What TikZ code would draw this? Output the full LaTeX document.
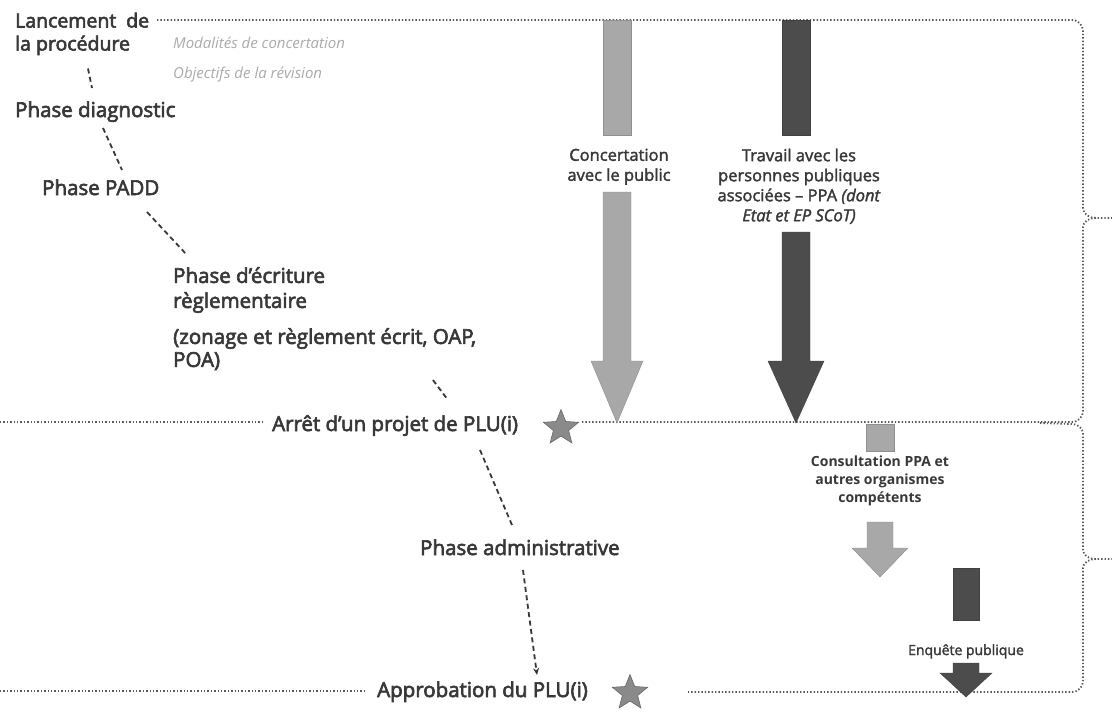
\documentclass[tikz,border=0pt]{standalone}
\usepackage{fontspec}
\setmainfont{Open Sans}
\newfontfamily\semib{Open Sans}[FakeBold=3]
\newfontfamily\semibs{Open Sans}[FakeBold=2]
\usetikzlibrary{shapes.geometric,arrows.meta,calc}
\definecolor{txt}{HTML}{383838}
\definecolor{lightarr}{HTML}{A8A8A8}
\definecolor{darkarr}{HTML}{4C4C4C}
\definecolor{dotc}{HTML}{5A5A5A}
\definecolor{ghost}{HTML}{ABABAB}
\definecolor{starc}{HTML}{8A8A8A}
\begin{document}
\begin{tikzpicture}[x=1pt,y=-1pt,
  lbl/.style={font=\semib\fontsize{20.5}{23}\selectfont, text=txt, inner sep=0pt, align=left},
  note/.style={font=\itshape\fontsize{15}{18}\selectfont, text=ghost, inner sep=0pt},
  arrlbl/.style={font=\semibs\fontsize{16.5}{20}\selectfont, text=txt, inner sep=0pt, align=center},
  smalllbl/.style={font=\bfseries\fontsize{14}{18}\selectfont, text=txt, inner sep=0pt, align=center},
  dotl/.style={draw=dotc, line width=1.8pt, dash pattern=on 1.4pt off 2pt},
  dashc/.style={draw=txt, line width=1.8pt, dash pattern=on 5pt off 3.5pt},
  lightfill/.style={fill=lightarr, draw=lightarr!85!black, line width=0.4pt},
  darkfill/.style={fill=darkarr, draw=darkarr!85!black, line width=0.4pt},
  milestone/.style={star, star points=5, star point ratio=2.3, minimum size=37pt, inner sep=0pt, fill=starc, draw=starc!75!black, line width=0.6pt}]
\useasboundingbox (0,0) rectangle (1112,713);
\fill[white] (0,0) rectangle (1112,713);

% ---------- phase labels ----------
\node[lbl, anchor=north west, font=\semib\fontsize{19.5}{23}\selectfont] (lanc) at (15,12.5) {Lancement\hspace{0.25em} de\\la procédure};
\node[note, anchor=base west] (mod) at (173,48.4) {Modalités de concertation};
\node[note, anchor=base west] (obj) at (173,78.4) {Objectifs de la révision};
\node[lbl, anchor=base west] (diag) at (15,117) {Phase diagnostic};
\node[lbl, anchor=base west] (padd) at (42,195) {Phase PADD};
\node[lbl, anchor=north west, font=\semib\fontsize{20.5}{25}\selectfont] (ecr) at (173,267) {Phase d’écriture\\règlementaire};
\node[lbl, anchor=north west] (zon) at (173,328) {(zonage et règlement écrit, OAP,\\POA)};
\node[lbl, anchor=base west] (arret) at (272,431) {Arrêt d’un projet de PLU(i)};
\node[lbl, anchor=base west] (admin) at (420,555) {Phase administrative};
\node[lbl, anchor=base west] (appr) at (377,697) {Approbation du PLU(i)};

\node[milestone] (star1) at (561,428) {};
\node[milestone] (star2) at (630,693) {};

% ---------- dashed connectors ----------
\draw[dashc] ($(lanc.north west)+(73,56)$) -- ($(diag.base west)+(77,-29)$);
\draw[dashc] ($(diag.base west)+(88,11)$) -- ($(padd.base west)+(80,-25)$);
\draw[dashc] ($(padd.base west)+(105,17)$) -- ($(ecr.north west)+(14,-12)$);
\draw[dashc] ($(zon.north west)+(260,52)$) -- ($(arret.base west)+(176,-31)$);
\draw[dashc] ($(arret.base west)+(208,19)$) -- ($(admin.base west)+(92,-30)$);
\draw[dashc, -{Stealth[length=7pt,width=6pt]}] ($(admin.base west)+(103,15)$) -- ($(appr.base west)+(160,-22)$);

% ---------- dotted separators and braces ----------
\draw[dotl] (157,20) -- (1072,20) to[out=0,in=90] (1083,31) -- (1083,208) to[out=-90,in=180] (1096,218) -- (1112,218);
\draw[dotl] (1096,218) to[out=180,in=90] (1083,227) -- (1083,411) to[out=-90,in=0] (1072,422) -- (582,422);
\draw[dotl] (0,422) -- (263,422);
\draw[dotl] (1040,423) -- (1072,424) to[out=0,in=90] (1083,434) -- (1083,550) to[out=-90,in=180] (1096,559) -- (1112,559);
\draw[dotl] (1096,559) to[out=180,in=90] (1083,568) -- (1083,681) to[out=-90,in=0] (1072,692) -- (688,692);
\draw[dotl] (0,691) -- (365,691);

% ---------- big arrows ----------
\path[lightfill] (603,20) rectangle (631,135);
\path[lightfill] (603,192) -- (631,192) -- (631,361) -- (643,361) -- (617,423) -- (591,361) -- (603,361) -- cycle;
\node[arrlbl, anchor=north] (conc) at (619,148.5) {Concertation\\avec le public};

\path[darkfill] (782,20) rectangle (810,135);
\path[darkfill] (782,232) -- (810,232) -- (810,361) -- (824,361) -- (796,423) -- (768,361) -- (782,361) -- cycle;
\node[arrlbl, anchor=north] (trav) at (799,148.5) {Travail avec les\\personnes publiques\\associées – PPA \textit{(dont}\\\textit{Etat et EP SCoT)}};

% ---------- small arrows ----------
\path[lightfill] (866,424) rectangle (894,451);
\node[smalllbl, anchor=north] (cons) at (880,456) {Consultation PPA et\\autres organismes\\compétents};
\path[lightfill] (867,522) -- (893,522) -- (893,548) -- (908,548) -- (880,577) -- (852,548) -- (867,548) -- cycle;

\path[darkfill] (953,568) rectangle (979,620);
\node[smalllbl, anchor=base, font=\semibs\fontsize{14}{18}\selectfont] (enq) at (966,655) {Enquête publique};
\path[darkfill] (953,663) -- (979,663) -- (979,673) -- (992,673) -- (966,697) -- (940,673) -- (953,673) -- cycle;
\end{tikzpicture}
\end{document}
